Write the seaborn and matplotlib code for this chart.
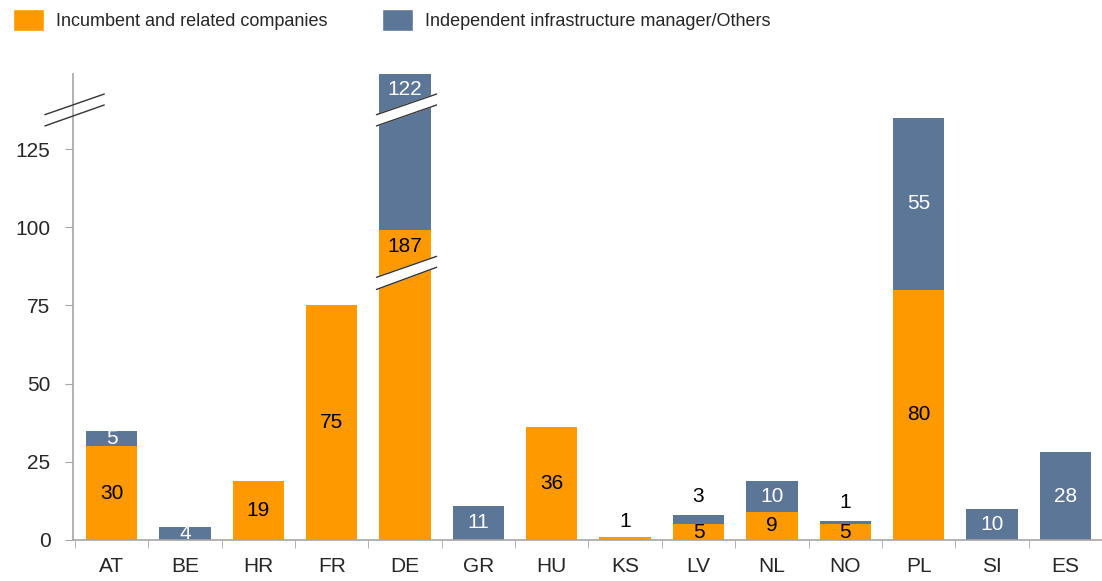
import matplotlib
matplotlib.use("Agg")
import matplotlib.pyplot as plt
from matplotlib.patches import Patch
import seaborn as sns
import pandas as pd

countries = ["AT", "BE", "HR", "FR", "DE", "GR", "HU", "KS", "LV", "NL", "NO", "PL", "SI", "ES"]
incumbent = [30, 0, 19, 75, 187, 0, 36, 1, 5, 9, 5, 80, 0, 0]
independent = [5, 4, 0, 0, 122, 11, 0, 0, 3, 10, 1, 55, 10, 28]
# DE is drawn on a broken axis: shown heights differ from its real values
shown_incumbent = [30, 0, 19, 75, 99, 0, 36, 1, 5, 9, 5, 80, 0, 0]
shown_independent = [5, 4, 0, 0, 50, 11, 0, 0, 3, 10, 1, 55, 10, 28]

ORANGE = "#FF9900"
BLUE = "#5B7696"
GREY = "#A6A6A6"

sns.set_style("white")
plt.rcParams["font.family"] = ["Liberation Sans", "DejaVu Sans"]

df = pd.DataFrame({
    "country": countries,
    "inc": shown_incumbent,
    "total": [a + b for a, b in zip(shown_incumbent, shown_independent)],
})

fig = plt.figure(figsize=(11.02, 5.81), dpi=100)
ax = fig.add_axes([0.066, 0.0706, 0.934, 0.802])

sns.barplot(data=df, x="country", y="total", color=BLUE, saturation=1, width=0.7,
            linewidth=0, ax=ax)
sns.barplot(data=df, x="country", y="inc", color=ORANGE, saturation=1, width=0.7,
            linewidth=0, ax=ax)

ax.set_xlim(-0.53, 13.43)
ax.set_ylim(0, 149)
ax.set_yticks([0, 25, 50, 75, 100, 125])
ax.set_xlabel("")
ax.set_ylabel("")
ax.tick_params(axis="y", labelsize=15, length=6, color=GREY, direction="out", left=True, pad=10)
ax.tick_params(axis="x", which="major", labelsize=15, length=0, pad=12)
ax.set_xticks([i + 0.5 for i in range(-1, 14)], minor=True)
ax.tick_params(axis="x", which="minor", length=6, color=GREY, bottom=True)
for s in ["top", "right"]:
    ax.spines[s].set_visible(False)
for s in ["left", "bottom"]:
    ax.spines[s].set_color(GREY)
    ax.spines[s].set_linewidth(1.2)

# value labels
for i, (a, b, sa, sb) in enumerate(zip(incumbent, independent, shown_incumbent, shown_independent)):
    if a > 0 and sa >= 4:
        y = sa / 2 if i != 4 else sa - 5
        ax.text(i, y, str(a), ha="center", va="center", fontsize=15, color="black")
    elif a > 0:
        ax.text(i, sa + sb + 5, str(a), ha="center", va="center", fontsize=15, color="black")
    if b > 0 and sb >= 4:
        y = sa + sb / 2 if i != 4 else sa + sb - 5
        ax.text(i, y, str(b), ha="center", va="center", fontsize=15, color="white")
    elif b > 0:
        ax.text(i, sa + sb + 6, str(b), ha="center", va="center", fontsize=15, color="black")

# break marks on DE bar
de = countries.index("DE")
x0, x1 = de - 0.39, de + 0.43
for (ya0, ya1), (yb0, yb1) in [((136, 142.6), (132.4, 139.1)), ((84, 90.7), (80.1, 87.2))]:
    ax.fill([x0, x1, x1, x0], [ya0, ya1, yb1, yb0], color="white", zorder=5, clip_on=False)
    ax.plot([x0, x1], [ya0, ya1], color="#333333", lw=1, zorder=6, clip_on=False)
    ax.plot([x0, x1], [yb0, yb1], color="#333333", lw=1, zorder=6, clip_on=False)

# break marks on y axis
ax.plot([-0.91, -0.10], [136, 142.6], color="#333333", lw=1, clip_on=False, zorder=6)
ax.plot([-0.91, -0.10], [132.4, 139.1], color="#333333", lw=1, clip_on=False, zorder=6)

handles = [Patch(facecolor=ORANGE, label="Incumbent and related companies"),
           Patch(facecolor=BLUE, label="Independent infrastructure manager/Others")]
fig.legend(handles=handles, loc="upper left", bbox_to_anchor=(-0.003, 1.012), ncol=2, frameon=False,
           fontsize=13, handlelength=1.7, handleheight=1.5, handletextpad=0.7, columnspacing=3.0)

fig.savefig("out.png", dpi=100)
